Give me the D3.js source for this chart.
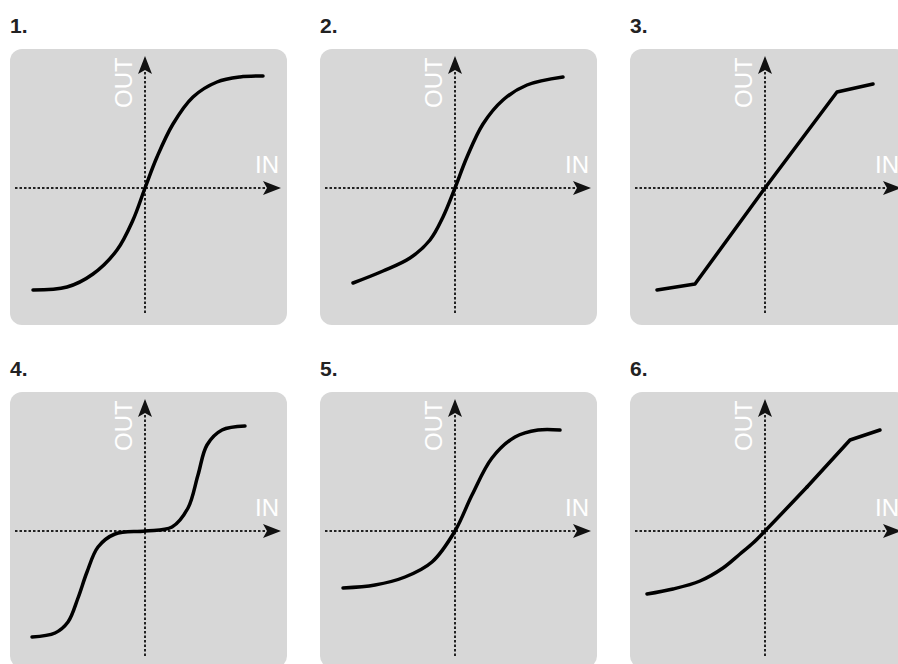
<!DOCTYPE html>
<html lang="en">
<head>
    <meta charset="UTF-8">
    <title>Transfer curves</title>
    <script src="https://d3js.org/d3.v7.min.js"></script>
    <style>
        body{ margin:0; background:#fff; }
        svg{ display:block; }
        .num{ font-family:"Liberation Sans", Arial, sans-serif; font-weight:bold; font-size:21px; fill:#222; }
        .axlabel{ font-family:"Liberation Sans", Arial, sans-serif; font-size:24px; fill:#fff; }
    </style>
</head>
<body>
<svg id="canvas" width="898" height="664"></svg>

<script>
    // panel titles
    const titles = ["1.", "2.", "3.", "4.", "5.", "6."];
    // IN / OUT pairs (axes cross at 0,0)
    const curve1 = [[-1.12,-1.02],[-0.78,-0.99],[-0.52,-0.86],[-0.28,-0.62],[-0.12,-0.32],[0,0],[0.12,0.31],[0.28,0.64],[0.48,0.91],[0.72,1.06],[0.95,1.11],[1.18,1.12]];
    const curve2 = [[-1.02,-0.95],[-0.72,-0.83],[-0.45,-0.70],[-0.25,-0.52],[-0.12,-0.29],[0,0],[0.12,0.31],[0.28,0.64],[0.48,0.88],[0.72,1.03],[1.08,1.11]];
    const curve3 = [[-1.08,-1.02],[-0.70,-0.96],[0,0],[0.72,0.96],[1.08,1.04]];
    const curve4 = [[-1.13,-1.06],[-0.90,-1.02],[-0.77,-0.91],[-0.67,-0.67],[-0.58,-0.41],[-0.47,-0.16],[-0.30,-0.03],[0,0],[0.27,0.04],[0.43,0.23],[0.53,0.56],[0.62,0.86],[0.77,1.01],[1.00,1.05]];
    const curve5 = [[-1.12,-0.57],[-0.80,-0.54],[-0.50,-0.46],[-0.23,-0.31],[0,0],[0.17,0.36],[0.37,0.73],[0.60,0.94],[0.83,1.01],[1.05,1.01]];
    const curve6 = [[-1.18,-0.63],[-0.92,-0.58],[-0.65,-0.50],[-0.42,-0.37],[-0.25,-0.23],[-0.12,-0.12],[0,0],[0.42,0.44],[0.85,0.91],[1.15,1.01]];
    const curves = [curve1, curve2, curve3, curve4, curve5, curve6];
    // index from which points are joined by straight segments (null = smooth throughout)
    const straightFrom = [null, null, 0, null, null, 7];

    const svg = d3.select("#canvas");

    const boxW = 277, boxH = 276;
    const colX = [10, 320, 630];
    const rowY = [49, 392];

    // one unit = 100px, axes cross a bit left of centre
    const x = d3.scaleLinear().domain([-1.35, 1.42]).range([0, boxW]);
    const y = d3.scaleLinear().domain([-1.37, 1.39]).range([boxH, 0]);

    const defs = svg.append("defs");
    defs.append("marker")
        .attr("id", "arrow")
        .attr("viewBox", "0 0 18 14")
        .attr("refX", 17).attr("refY", 7)
        .attr("markerWidth", 18).attr("markerHeight", 14)
        .attr("markerUnits", "userSpaceOnUse")
        .attr("orient", "auto")
        .append("path")
        .attr("d", "M0,0 L18,7 L0,14 L4,7 Z")
        .attr("fill", "#111");

    const smooth = d3.line().x(d => x(d[0])).y(d => y(d[1])).curve(d3.curveCatmullRom.alpha(0.5));
    const straight = d3.line().x(d => x(d[0])).y(d => y(d[1])).curve(d3.curveLinear);

    curves.forEach((data, i) => {
        const px = colX[i % 3], py = rowY[Math.floor(i / 3)];

        svg.append("text")
            .attr("class", "num")
            .attr("x", px)
            .attr("y", py - 16)
            .text(titles[i]);

        const g = svg.append("g").attr("transform", `translate(${px},${py})`);

        g.append("rect")
            .attr("width", boxW).attr("height", boxH)
            .attr("rx", 12).attr("ry", 12)
            .attr("fill", "#d7d7d7");

        // dotted axes
        g.append("line")
            .attr("x1", x(-1.30)).attr("y1", y(0))
            .attr("x2", x(1.35)).attr("y2", y(0))
            .attr("stroke", "#222").attr("stroke-width", 2)
            .attr("stroke-dasharray", "2.5,2")
            .attr("marker-end", "url(#arrow)");
        g.append("line")
            .attr("x1", x(0)).attr("y1", y(-1.25))
            .attr("x2", x(0)).attr("y2", y(1.31))
            .attr("stroke", "#222").attr("stroke-width", 2)
            .attr("stroke-dasharray", "2.5,2")
            .attr("marker-end", "url(#arrow)");

        g.append("text")
            .attr("class", "axlabel")
            .attr("x", x(1.34)).attr("y", y(0.15))
            .attr("text-anchor", "end")
            .text("IN");
        g.append("text")
            .attr("class", "axlabel")
            .attr("transform", `translate(${x(-0.13)},${y(0.80)}) rotate(-90)`)
            .text("OUT");

        const k = straightFrom[i];
        const pieces = k === null ? [[data, smooth]]
            : [[data.slice(0, k + 1), smooth], [data.slice(k), straight]];

        pieces.forEach(([pts, gen]) => {
            if (pts.length < 2) return;
            g.append("path")
                .datum(pts)
                .attr("d", gen)
                .attr("fill", "none")
                .attr("stroke", "#000")
                .attr("stroke-width", 3.5)
                .attr("stroke-linejoin", "round")
                .attr("stroke-linecap", "round");
        });
    });
</script>
</body>
</html>
